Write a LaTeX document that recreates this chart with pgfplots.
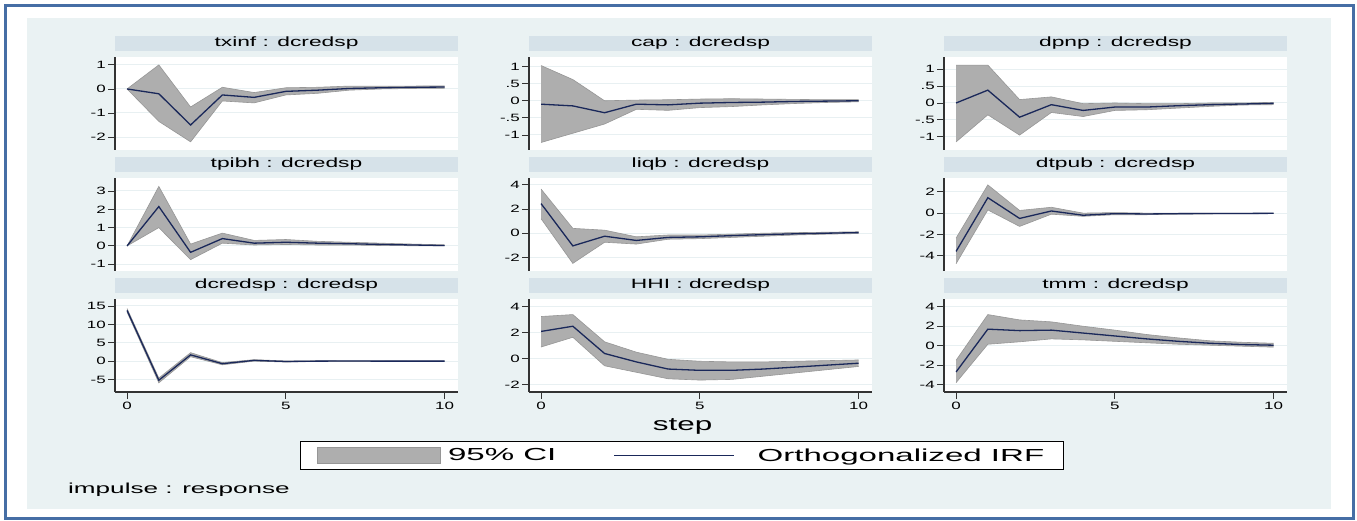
\documentclass[border=0pt]{standalone}
\usepackage{fontspec}
\setmainfont{Liberation Sans}[FakeStretch=2.0]
\newfontfamily\ticfam{Liberation Sans}[FakeStretch=1.6]
\newfontfamily\titfam{Liberation Sans}[FakeStretch=1.7]
\newfontfamily\legfam{Liberation Sans}[FakeStretch=1.9]
\newfontfamily\notefam{Liberation Sans}[FakeStretch=1.8]
\usepackage{pgfplots}
\usepackage{pgfplotstable}
\pgfplotsset{compat=1.18}

\definecolor{bordercol}{RGB}{70,110,165}
\definecolor{bgcol}{RGB}{234,242,243}
\definecolor{stripcol}{RGB}{214,226,233}
\definecolor{gridcol}{RGB}{232,240,242}
\definecolor{cigray}{RGB}{174,174,174}
\definecolor{cidraw}{RGB}{150,150,150}
\definecolor{navyline}{RGB}{26,40,90}

\newcommand\ticfont{\ticfam\fontsize{10.6}{11}\selectfont}
\newcommand\titfont{\titfam\fontsize{13.4}{15}\selectfont}

% step irf lo hi
\pgfplotstableread{
s irf lo hi
0 0 0 0
1 -0.2 -1.35 1.0
2 -1.5 -2.2 -0.75
3 -0.25 -0.5 0.07
4 -0.35 -0.58 -0.15
5 -0.1 -0.25 0.05
6 -0.05 -0.18 0.07
7 0.02 -0.05 0.12
8 0.05 0.0 0.12
9 0.07 0.02 0.12
10 0.08 0.03 0.13
}\tA
\pgfplotstableread{
s irf lo hi
0 -0.1 -1.22 1.03
1 -0.15 -0.95 0.62
2 -0.35 -0.68 0.0
3 -0.1 -0.25 0.02
4 -0.12 -0.28 0.03
5 -0.07 -0.2 0.05
6 -0.05 -0.17 0.06
7 -0.04 -0.12 0.05
8 -0.02 -0.08 0.04
9 -0.01 -0.05 0.03
10 0.0 -0.03 0.03
}\tB
\pgfplotstableread{
s irf lo hi
0 0.0 -1.15 1.12
1 0.38 -0.35 1.12
2 -0.42 -0.95 0.1
3 -0.05 -0.28 0.18
4 -0.22 -0.4 -0.02
5 -0.12 -0.22 0.0
6 -0.12 -0.2 -0.02
7 -0.08 -0.15 -0.02
8 -0.05 -0.1 0.0
9 -0.03 -0.06 0.0
10 -0.01 -0.05 0.02
}\tC
\pgfplotstableread{
s irf lo hi
0 0 0 0
1 2.15 1.0 3.25
2 -0.35 -0.75 0.1
3 0.4 0.15 0.7
4 0.15 0.05 0.3
5 0.2 0.08 0.35
6 0.15 0.05 0.25
7 0.12 0.05 0.2
8 0.08 0.02 0.15
9 0.05 0.01 0.1
10 0.02 0.0 0.06
}\tD
\pgfplotstableread{
s irf lo hi
0 2.45 1.2 3.65
1 -1.05 -2.5 0.4
2 -0.25 -0.75 0.25
3 -0.6 -0.9 -0.3
4 -0.35 -0.5 -0.15
5 -0.3 -0.45 -0.15
6 -0.2 -0.35 -0.08
7 -0.12 -0.25 0.0
8 -0.05 -0.15 0.05
9 0.0 -0.08 0.08
10 0.05 -0.03 0.12
}\tE
\pgfplotstableread{
s irf lo hi
0 -3.6 -4.75 -2.35
1 1.45 0.3 2.65
2 -0.5 -1.25 0.25
3 0.2 -0.1 0.55
4 -0.2 -0.3 0.0
5 -0.05 -0.15 0.05
6 -0.08 -0.15 0.0
7 -0.05 -0.1 0.0
8 -0.04 -0.08 0.0
9 -0.03 -0.06 0.0
10 -0.02 -0.05 0.0
}\tF
\pgfplotstableread{
s irf lo hi
0 13.8 13.3 14.3
1 -5.2 -5.9 -4.6
2 1.7 1.2 2.3
3 -0.7 -1.0 -0.4
4 0.2 0.0 0.4
5 -0.1 -0.25 0.05
6 0.0 -0.1 0.1
7 0.02 -0.05 0.08
8 0.0 -0.05 0.05
9 0.0 -0.03 0.03
10 0.0 -0.02 0.02
}\tG
\pgfplotstableread{
s irf lo hi
0 2.1 0.9 3.25
1 2.5 1.65 3.4
2 0.4 -0.55 1.3
3 -0.25 -1.05 0.5
4 -0.8 -1.55 -0.05
5 -0.9 -1.65 -0.2
6 -0.9 -1.6 -0.25
7 -0.8 -1.35 -0.25
8 -0.65 -1.1 -0.2
9 -0.5 -0.85 -0.15
10 -0.35 -0.6 -0.1
}\tH
\pgfplotstableread{
s irf lo hi
0 -2.7 -3.8 -1.5
1 1.7 0.15 3.2
2 1.55 0.4 2.65
3 1.6 0.7 2.45
4 1.3 0.6 2.0
5 1.0 0.45 1.6
6 0.7 0.3 1.15
7 0.45 0.15 0.8
8 0.25 0.05 0.5
9 0.12 -0.05 0.35
10 0.05 -0.15 0.25
}\tI

\pgfplotsset{
  irfpanel/.style={
    scale only axis, width=343pt, height=93pt,
    anchor=south west,
    xmin=-0.38, xmax=10.42,
    axis background/.style={fill=white},
    ymajorgrids, major grid style={draw=gridcol, line width=1pt},
    axis y line*=left, axis x line*=bottom,
    tick align=outside, major tick length=7pt,
    every tick/.style={black!80, line width=0.9pt},
    axis line style={line width=1.4pt, black!80},
    yticklabel style={font=\ticfont, text=black, inner sep=2pt},
    xticklabel style={font=\ticfont, text=black},
    title style={at={(0.5,1)}, anchor=south, yshift=0pt, fill=stripcol,
      minimum width=343pt, minimum height=15pt, inner sep=0pt, font=\titfont},
    no marks, clip=false,
  },
  toprow/.style={x axis line style={draw=none}, xtick=\empty},
  botrow/.style={xtick={0,5,10}, xticklabels={0,5,10}},
}

\newcommand\irfplots[1]{%
  \addplot[draw=none, stack plots=y, forget plot] table[x=s,y=lo]{#1};
  \addplot[fill=cigray, draw=none, stack plots=y, forget plot]
     table[x=s, y expr=\thisrow{hi}-\thisrow{lo}]{#1} \closedcycle;
  \addplot[draw=cidraw, line width=0.6pt, forget plot] table[x=s,y=hi]{#1};
  \addplot[draw=cidraw, line width=0.6pt, forget plot] table[x=s,y=lo]{#1};
  \addplot[navyline, line width=1.3pt, forget plot] table[x=s,y=irf]{#1};
}

\begin{document}
\begin{tikzpicture}
\useasboundingbox (0pt,0pt) rectangle (1357pt,520pt);
\fill[white] (0pt,0pt) rectangle (1357pt,520pt);
\fill[bgcol] (27pt,11pt) rectangle (1331pt,502pt);
\draw[bordercol, line width=3pt] (5pt,2pt) rectangle (1353pt,514pt);

% row 1
\begin{axis}[irfpanel, toprow, at={(115pt,370pt)}, title={txinf : dcredsp},
  ymin=-2.54, ymax=1.33, ytick={-2,-1,0,1}, yticklabels={-2,-1,0,1}]
  \irfplots{\tA}
\end{axis}
\begin{axis}[irfpanel, toprow, at={(529pt,370pt)}, title={cap : dcredsp},
  ymin=-1.44, ymax=1.28, ytick={-1,-0.5,0,0.5,1}, yticklabels={-1,-.5,0,.5,1}]
  \irfplots{\tB}
\end{axis}
\begin{axis}[irfpanel, toprow, at={(944pt,370pt)}, title={dpnp : dcredsp},
  ymin=-1.39, ymax=1.36, ytick={-1,-0.5,0,0.5,1}, yticklabels={-1,-.5,0,.5,1}]
  \irfplots{\tC}
\end{axis}
% row 2
\begin{axis}[irfpanel, toprow, at={(115pt,249pt)}, title={tpibh : dcredsp},
  ymin=-1.37, ymax=3.71, ytick={-1,0,1,2,3}, yticklabels={-1,0,1,2,3}]
  \irfplots{\tD}
\end{axis}
\begin{axis}[irfpanel, toprow, at={(529pt,249pt)}, title={liqb : dcredsp},
  ymin=-3.13, ymax=4.57, ytick={-2,0,2,4}, yticklabels={-2,0,2,4}]
  \irfplots{\tE}
\end{axis}
\begin{axis}[irfpanel, toprow, at={(944pt,249pt)}, title={dtpub : dcredsp},
  ymin=-5.44, ymax=3.3, ytick={-4,-2,0,2}, yticklabels={-4,-2,0,2}]
  \irfplots{\tF}
\end{axis}
% row 3
\begin{axis}[irfpanel, botrow, at={(115pt,128pt)}, title={dcredsp : dcredsp},
  ymin=-8.4, ymax=16.9, ytick={-5,0,5,10,15}, yticklabels={-5,0,5,10,15}]
  \irfplots{\tG}
\end{axis}
\begin{axis}[irfpanel, botrow, at={(529pt,128pt)}, title={HHI : dcredsp},
  ymin=-2.57, ymax=4.6, ytick={-2,0,2,4}, yticklabels={-2,0,2,4},
  xlabel={step},
  xlabel style={at={(axis description cs:0.448,-0.371)}, anchor=center,
    font=\titfam\fontsize{18.5}{20}\selectfont},
  legend columns=2,
  legend style={at={(axis description cs:0.445,-0.527)}, anchor=north,
    draw=black, line width=0.8pt, fill=white,
    font=\legfam\fontsize{17.4}{19}\selectfont,
    inner xsep=17pt, inner ysep=5pt,
    /tikz/column 1/.style={column sep=5pt},
    /tikz/column 2/.style={column sep=55pt},
    /tikz/column 3/.style={column sep=21pt}},
  ]
  \irfplots{\tH}
  \addlegendimage{legend image code/.code={\fill[cigray,draw=cidraw,line width=1pt] (0pt,-8pt) rectangle (123pt,8pt);}}
  \addlegendentry{95\% CI}
  \addlegendimage{legend image code/.code={\draw[navyline,line width=1.2pt] (0pt,0pt) -- (120pt,0pt);}}
  \addlegendentry{Orthogonalized IRF}
\end{axis}
\begin{axis}[irfpanel, botrow, at={(944pt,128pt)}, title={tmm : dcredsp},
  ymin=-4.76, ymax=4.8, ytick={-4,-2,0,2,4}, yticklabels={-4,-2,0,2,4}]
  \irfplots{\tI}
\end{axis}

\node[anchor=west, font=\notefam\fontsize{14.5}{16}\selectfont, inner sep=0pt] at (68pt,30pt) {impulse : response};
\end{tikzpicture}
\end{document}
